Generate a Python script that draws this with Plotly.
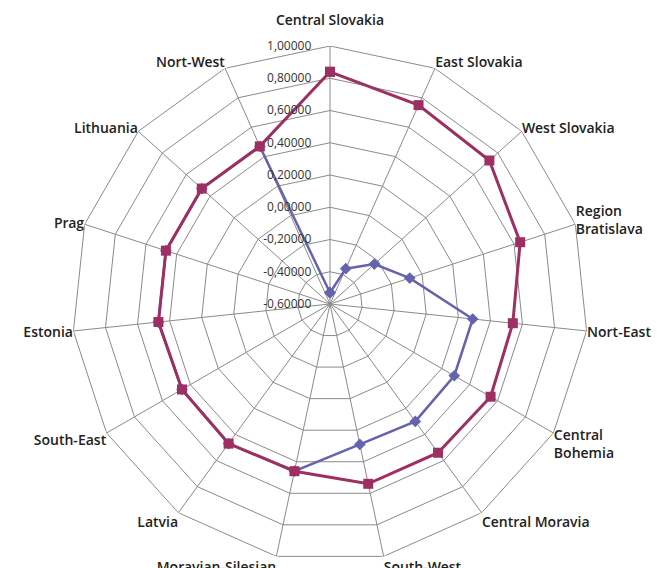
import plotly.graph_objects as go

categories = ["Central Slovakia<br> ", "East Slovakia", "West Slovakia", "Region<br>Bratislava",
              "Nort-East", "Central<br>Bohemia", "Central Moravia", "South-West",
              "Moravian-Silesian", "Latvia", "South-East", "Estonia", "Prag",
              "Lithuania", "Nort-West"]

red_values = [0.84, 0.75, 0.73, 0.64, 0.54, 0.55, 0.54, 0.54,
              0.46, 0.47, 0.46, 0.47, 0.47, 0.47, 0.47]
blue_values = [-0.53, -0.36, -0.23, -0.08, 0.29, 0.29, 0.30, 0.29,
               0.46, 0.47, 0.46, 0.47, 0.47, 0.47, 0.47]

tick_vals = [-0.6, -0.4, -0.2, 0.0, 0.2, 0.4, 0.6, 0.8, 1.0]
tick_text = ["-0,60000", "-0,40000", "-0,20000", "0,00000", "0,20000",
             "0,40000", "0,60000", "0,80000", "1,00000"]

RED = "#9E2F62"
BLUE = "#6464AE"
GRID = "#8a8a8a"

n = len(categories)
step = 360.0 / n
angles = [i * step for i in range(n)]
closed_angles = angles + angles[:1]

fig = go.Figure()

# polygonal grid rings at each radial tick
for v in tick_vals[1:]:
    fig.add_trace(go.Scatterpolar(
        r=[v] * (n + 1), theta=closed_angles, thetaunit="degrees",
        mode="lines", line=dict(color=GRID, width=1),
        hoverinfo="skip", showlegend=False))

fig.add_trace(go.Scatterpolar(
    r=blue_values + blue_values[:1], theta=closed_angles,
    thetaunit="degrees",
    mode="lines+markers",
    line=dict(color=BLUE, width=2.5),
    marker=dict(symbol="diamond", size=9, color=BLUE),
    cliponaxis=False,
    showlegend=False))
fig.add_trace(go.Scatterpolar(
    r=red_values + red_values[:1], theta=closed_angles,
    thetaunit="degrees",
    mode="lines+markers",
    line=dict(color=RED, width=3),
    marker=dict(symbol="square", size=10, color=RED),
    cliponaxis=False,
    showlegend=False))

fig.update_layout(
    width=659, height=568,
    margin=dict(l=72, r=71, t=46, b=6),
    paper_bgcolor="white",
    plot_bgcolor="white",
    font=dict(family="Open Sans, Lato, sans-serif", color="#222"),
    polar=dict(
        bgcolor="white",
        angularaxis=dict(
            type="linear", thetaunit="degrees",
            rotation=90, direction="clockwise",
            tickmode="array", tickvals=angles, ticktext=categories,
            showline=False,
            gridcolor=GRID, gridwidth=1,
            ticks="",
            tickfont=dict(size=14, color="#222", family="Open Sans SemiBold, Open Sans, sans-serif"),
        ),
        radialaxis=dict(
            range=[-0.6, 1.0], angle=90, tickangle=90,
            tickvals=tick_vals, ticktext=tick_text,
            tickfont=dict(size=12, color="#333"),
            showline=False, showgrid=False,
            ticks="outside", ticklen=14, tickcolor="rgba(0,0,0,0)",
            side="counterclockwise",
        ),
    ),
)

fig.write_html("out.html")
